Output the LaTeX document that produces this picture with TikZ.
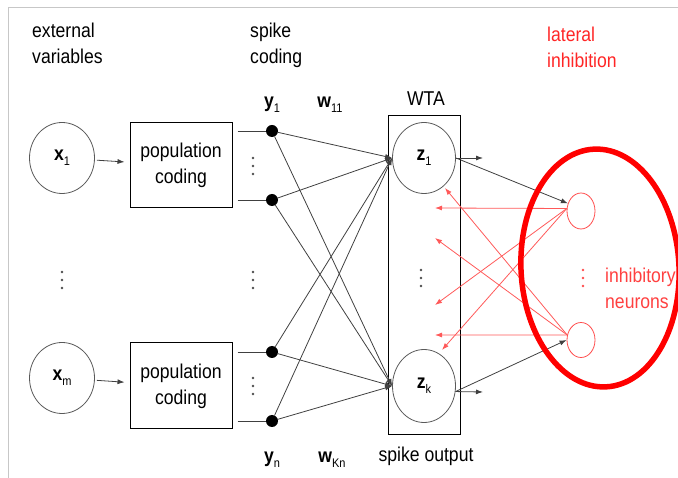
\documentclass[tikz,border=0pt]{standalone}
\usepackage{fontspec}
\setmainfont{Liberation Sans}[FakeStretch=0.88]
\usetikzlibrary{shapes.geometric,arrows.meta,calc}
\tikzstyle{unit}=[ellipse,draw=black!65,line width=.8pt,inner sep=0pt,minimum width=63pt,minimum height=71pt]
\tikzstyle{coder}=[draw,line width=1pt,minimum width=102pt,minimum height=85pt,align=center,inner sep=0pt]
\tikzstyle{spike}=[circle,fill=black,inner sep=0pt,minimum size=12pt]
\tikzstyle{inhib}=[ellipse,draw=red!70,line width=.8pt,minimum width=28pt,minimum height=36pt,inner sep=0pt]
\tikzstyle{wire}=[draw=black!75,line width=.8pt]
\tikzstyle{redwire}=[draw=red!65,line width=.8pt]
\tikzstyle{caption}=[inner sep=0pt,align=left]
\tikzset{>={Latex[length=7pt,width=5pt]}}
\newcommand{\varsub}[2]{\textbf{#1}\raisebox{-.45ex}{\fontsize{12.5}{12.5}\selectfont #2}}

\begin{document}
\begin{tikzpicture}[x=1pt,y=-1pt,font=\fontsize{20}{26}\selectfont]
    \useasboundingbox (0,0) rectangle (678,478);
    \draw[black!22,line width=1pt] (678,7.5) -- (8,7.5) -- (8,478);

    % headings
    \node[caption,anchor=north west] (extlabel) at (32,23) {external\\variables};
    \node[caption,anchor=north west] (spikelabel) at (250,23) {spike\\coding};
    \node[caption,anchor=north west,text=red!85] (latlabel) at (547,27) {lateral\\inhibition};

    % inputs
    \node[unit,minimum width=65pt] (x1) at (62,158) {\varsub{x}{1}};
    \node[unit,minimum width=65pt] (xm) at (62,378) {\varsub{x}{m}};
    \coordinate (xdots) at (62,280);
    \node[coder] (pop1) at (181,165.5) {population\\coding};
    \node[coder,minimum height=86pt] (popm) at (181,386) {population\\coding};

    % spike coding
    \node[spike] (y1) at (272,131) {};
    \node[spike] (y2) at (272,200) {};
    \node[spike] (y3) at (272,352) {};
    \node[spike] (yn) at (272,421) {};
    \coordinate (ydots1) at (253,166);
    \coordinate (ydots2) at (253,280);
    \coordinate (ydots3) at (253,386);
    \node[anchor=base] (y1label) at (272,108) {\varsub{y}{1}};
    \node[anchor=base] (w11label) at (330,108) {\varsub{w}{11}};
    \node[anchor=base] (ynlabel) at (272,463) {\varsub{y}{n}};
    \node[anchor=base] (wknlabel) at (332,463) {\varsub{w}{Kn}};

    % WTA circuit
    \node[draw,line width=1pt,minimum width=72pt,minimum height=319pt,inner sep=0pt] (wta) at (424,275.5) {};
    \node[anchor=base] (wtalabel) at (426,106) {WTA};
    \node[anchor=base] (outlabel) at (426,462) {spike output};
    \node[unit] (z1) at (424,158) {\varsub{z}{1}};
    \node[unit,minimum height=73pt] (zk) at (424,386) {\varsub{z}{k}};
    \coordinate (zdots) at (421,278);

    % inhibitory pool
    \node[inhib] (n1) at (581,211) {};
    \node[inhib,minimum height=35pt] (n2) at (581,340) {};
    \coordinate (ndots) at (583,278);
    \node[caption,anchor=north west,text=red!75] (inhlabel) at (605,268) {inhibitory\\neurons};

    \foreach \c in {xdots,ydots1,ydots2,ydots3,zdots}
      \foreach \d in {-8,0,8}
        \fill[black!70] ($(\c)+(0,\d)$) circle (1.3pt);
    \foreach \d in {-8,0,8}
      \fill[red!70] ($(ndots)+(0,\d)$) circle (1.3pt);

    \coordinate (o1) at (483,158);
    \coordinate (ok) at (483,392);
    \coordinate (r1) at (435,208);
    \coordinate (r2) at (435,305);
    \coordinate (r3) at (442,350);
    \coordinate (r4) at (435,335);
    \coordinate (r5) at (435,238);
    \coordinate (r6) at (445,188);

    \draw[wire,->,shorten <=2pt,shorten >=5pt] (x1) -- (pop1);
    \draw[wire,->,shorten <=2pt,shorten >=5pt] (xm) -- (popm);
    \draw[wire,shorten <=5pt] (pop1.east |- y1) -- (y1);
    \draw[wire,shorten <=5pt] (pop1.east |- y2) -- (y2);
    \draw[wire,shorten <=5pt] (popm.east |- y3) -- (y3);
    \draw[wire,shorten <=5pt] (popm.east |- yn) -- (yn);
    \foreach \s in {y1,y2,y3,yn} {
      \draw[wire,->] (\s) -- (z1.west);
      \draw[wire,->] (\s) -- (zk.west);
    }
    \draw[wire,->] (z1.east) -- (o1);
    \draw[wire,->] (zk.-10) -- (ok);
    \draw[wire,->] (z1.east) -- (n1.150);
    \draw[wire,->] (zk.-10) -- (n2.west);

    % lateral inhibition
    \draw[redwire,->] (n1.170) -- (r1);
    \draw[redwire,->] (n1.170) -- (r2);
    \draw[redwire,->] (n1.170) -- (r3);
    \draw[redwire,->] (n2.160) -- (r4);
    \draw[redwire,->] (n2.160) -- (r5);
    \draw[redwire,->] (n2.160) -- (r6);

    \node[ellipse,draw=red,line width=5.5pt,minimum width=158pt,minimum height=238pt,inner sep=0pt,rotate=3] (pool) at (600,268) {};
\end{tikzpicture}
\end{document}
